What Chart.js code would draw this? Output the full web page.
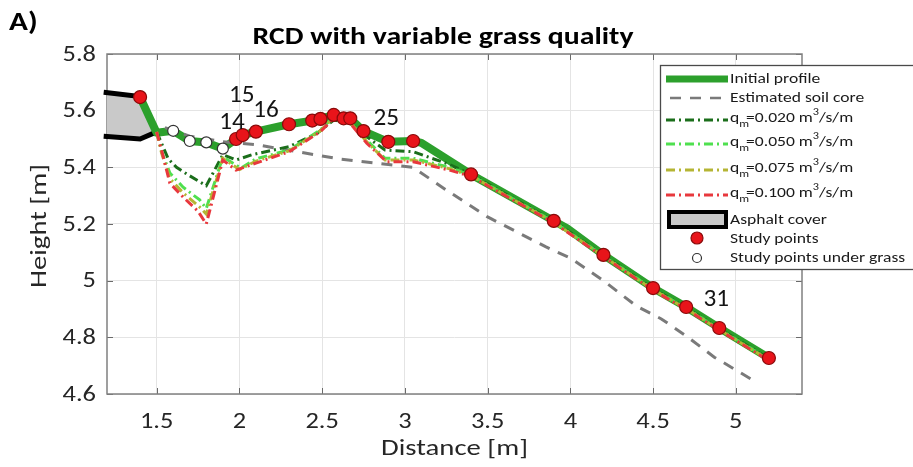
<!DOCTYPE html>
<html>
<head>
<meta charset="utf-8">
<script src="https://cdn.jsdelivr.net/npm/chart.js@4.4.1/dist/chart.umd.min.js"></script>
<style>
  html, body { margin: 0; padding: 0; background: #ffffff; }
  #wrap { width: 913px; height: 467px; position: relative; }
</style>
</head>
<body>
<div id="wrap"><canvas id="c" width="913" height="467"></canvas></div>
<script>
// ---- axis ticks ----
const xTicks = [1.5, 2, 2.5, 3, 3.5, 4, 4.5, 5];
const xTickLabels = ['1.5', '2', '2.5', '3', '3.5', '4', '4.5', '5'];
const yTicks = [4.6, 4.8, 5.0, 5.2, 5.4, 5.6, 5.8];
const yTickLabels = ['4.6', '4.8', '5', '5.2', '5.4', '5.6', '5.8'];

// ---- asphalt cover outline (open on the left side) ----
const asphaltX = [1.18, 1.4, 1.5, 1.4, 1.18];
const asphaltY = [5.665, 5.65, 5.525, 5.5, 5.51];

// ---- initial profile ----
const initX = [1.4, 1.5, 1.6, 1.7, 1.8, 1.9, 1.98, 2.02, 2.1, 2.3, 2.44, 2.49, 2.57, 2.63, 2.67, 2.75, 2.9, 3.05, 3.1, 3.4, 3.9, 3.98, 4.2, 4.5, 4.7, 4.9, 5.2];
const initY = [5.648, 5.522, 5.529, 5.493, 5.488, 5.466, 5.5, 5.514, 5.526, 5.552, 5.565, 5.571, 5.585, 5.573, 5.573, 5.528, 5.49, 5.493, 5.486, 5.375, 5.211, 5.185, 5.091, 4.974, 4.907, 4.833, 4.727];

// ---- estimated soil core ----
const soilX = [1.55, 1.7, 1.9, 2.1, 2.3, 2.6, 2.9, 3.05, 3.25, 3.5, 3.85, 4.0, 4.2, 4.4, 4.55, 4.7, 4.87, 5.1, 5.12];
const soilY = [5.54, 5.51, 5.49, 5.48, 5.46, 5.43, 5.41, 5.40, 5.32, 5.225, 5.12, 5.08, 5.0, 4.91, 4.865, 4.805, 4.73, 4.65, 4.64];

// ---- eroded profiles for each overflow discharge q_m ----
const qValues = ['0.020', '0.050', '0.075', '0.100'];

const q020X = [1.5, 1.57, 1.62, 1.7, 1.8, 1.9, 1.98, 2.08, 2.3, 2.47, 2.57, 2.67, 2.77, 2.88, 3.05, 3.27, 3.4, 3.9, 4.2, 4.5, 4.7, 4.9, 5.2];
const q020Y = [5.525, 5.43, 5.40, 5.37, 5.335, 5.445, 5.426, 5.445, 5.473, 5.52, 5.567, 5.555, 5.508, 5.461, 5.455, 5.41, 5.375, 5.21, 5.09, 4.972, 4.905, 4.831, 4.725];

const q050X = [1.5, 1.53, 1.58, 1.66, 1.76, 1.8, 1.9, 2.01, 2.1, 2.3, 2.49, 2.57, 2.67, 2.77, 2.88, 3.05, 3.27, 3.4, 3.9, 4.2, 4.5, 4.7, 4.9, 5.2];
const q050Y = [5.525, 5.455, 5.38, 5.33, 5.285, 5.255, 5.437, 5.397, 5.43, 5.461, 5.532, 5.579, 5.561, 5.496, 5.432, 5.432, 5.40, 5.372, 5.208, 5.088, 4.970, 4.903, 4.829, 4.722];

const q075X = [1.5, 1.53, 1.58, 1.66, 1.76, 1.8, 1.9, 2.0, 2.1, 2.3, 2.49, 2.57, 2.67, 2.77, 2.88, 3.05, 3.27, 3.4, 3.9, 4.2, 4.5, 4.7, 4.9, 5.2];
const q075Y = [5.525, 5.45, 5.36, 5.31, 5.26, 5.235, 5.432, 5.392, 5.422, 5.458, 5.529, 5.576, 5.558, 5.49, 5.426, 5.426, 5.395, 5.37, 5.206, 5.086, 4.968, 4.901, 4.827, 4.72];

const q100X = [1.5, 1.53, 1.58, 1.66, 1.75, 1.8, 1.9, 1.98, 2.1, 2.3, 2.49, 2.57, 2.67, 2.77, 2.89, 3.05, 3.27, 3.4, 3.9, 4.2, 4.5, 4.7, 4.9, 5.2];
const q100Y = [5.525, 5.46, 5.344, 5.295, 5.245, 5.2, 5.426, 5.39, 5.415, 5.455, 5.526, 5.573, 5.555, 5.485, 5.42, 5.42, 5.39, 5.368, 5.204, 5.084, 4.966, 4.899, 4.825, 4.718];

// ---- study points ----
const studyX = [1.4, 1.98, 2.02, 2.1, 2.3, 2.44, 2.49, 2.57, 2.63, 2.67, 2.75, 2.9, 3.05, 3.4, 3.9, 4.2, 4.5, 4.7, 4.9, 5.2];
const studyY = [5.648, 5.5, 5.514, 5.526, 5.552, 5.565, 5.571, 5.585, 5.573, 5.573, 5.528, 5.49, 5.493, 5.375, 5.211, 5.091, 4.974, 4.907, 4.833, 4.727];
const grassX = [1.6, 1.7, 1.8, 1.9];
const grassY = [5.529, 5.493, 5.488, 5.466];

// numbered study points that carry a label
const pointNumbers = ['14', '15', '16', '25', '31'];
const pointNumberIndex = [1, 2, 3, 11, 18];

const FONT = 'Carlito, Lato, sans-serif';
const WIDE = 1.2;   // horizontal text stretch
const COL = {
  init: '#2ca02c', soil: '#7a7a7a',
  q: ['#1b6e1b', '#4fe04f', '#b5b534', '#e8383d'],
  red: '#e8141a', redEdge: '#8a0a0a', text: '#262626'
};
const qDash = [9, 4, 2, 4];

function pts(xs, ys) { return xs.map((x, i) => ({ x: x, y: ys[i] })); }

const qSeries = [[q020X, q020Y], [q050X, q050Y], [q075X, q075Y], [q100X, q100Y]];

const datasets = [
  { label: 'Study points', data: pts(studyX, studyY), showLine: false,
    pointRadius: 6.5, pointBackgroundColor: COL.red, pointBorderColor: COL.redEdge,
    pointBorderWidth: 1.2, order: 0 },
  { label: 'Study points under grass', data: pts(grassX, grassY), showLine: false,
    pointRadius: 5.5, pointBackgroundColor: '#ffffff', pointBorderColor: '#333333',
    pointBorderWidth: 1.2, order: 0 },
];
qSeries.forEach((s, i) => {
  datasets.push({
    label: 'q_m=' + qValues[i], data: pts(s[0], s[1]), showLine: true,
    borderColor: COL.q[i], borderWidth: 3, borderDash: qDash, pointRadius: 0,
    tension: 0, order: 4 - i
  });
});
datasets.push(
  { label: 'Estimated soil core', data: pts(soilX, soilY), showLine: true,
    borderColor: COL.soil, borderWidth: 3, borderDash: [11, 9], pointRadius: 0, order: 6 },
  { label: 'Initial profile', data: pts(initX, initY), showLine: true,
    borderColor: COL.init, borderWidth: 8, pointRadius: 0, borderJoinStyle: 'round',
    borderCapStyle: 'round', order: 7 },
  { label: 'Asphalt cover', data: pts(asphaltX, asphaltY), showLine: true,
    borderColor: '#000000', borderWidth: 5, backgroundColor: '#c9c9c9', fill: 'shape',
    pointRadius: 0, clip: false, order: 8 }
);

// text drawn with a slight horizontal stretch
function wideText(ctx, text, x, y, font, align, sx) {
  ctx.save();
  ctx.font = font;
  ctx.translate(x, y);
  ctx.scale(sx || WIDE, 1);
  ctx.textAlign = align || 'left';
  ctx.fillText(text, 0, 0);
  ctx.restore();
}

function drawLegendLine(ctx, x1, x2, y, color, width, dash) {
  ctx.save();
  ctx.strokeStyle = color; ctx.lineWidth = width; ctx.setLineDash(dash || []);
  ctx.beginPath(); ctx.moveTo(x1, y); ctx.lineTo(x2, y); ctx.stroke();
  ctx.restore();
}

function drawQLabel(ctx, x, y, val, sx) {
  const big = '15px ' + FONT, small = '10.5px ' + FONT;
  ctx.save();
  ctx.translate(x, y); ctx.scale(sx, 1); ctx.textAlign = 'left';
  ctx.font = big; ctx.fillText('q', 0, 0);
  let cx = ctx.measureText('q').width;
  ctx.font = small; ctx.fillText('m', cx, 6);
  cx += ctx.measureText('m').width * 0.7;
  ctx.font = big; const t1 = '=' + val + ' m'; ctx.fillText(t1, cx, 0);
  cx += ctx.measureText(t1).width;
  ctx.font = small; ctx.fillText('3', cx, -6);
  cx += ctx.measureText('3').width;
  ctx.font = big; ctx.fillText('/s/m', cx, 0);
  ctx.restore();
}

const decor = {
  id: 'decor',
  beforeDatasetsDraw(chart) {
    const { ctx, chartArea: a, scales } = chart;
    ctx.save();
    // inward tick marks
    ctx.strokeStyle = '#6a6a6a'; ctx.lineWidth = 1;
    ctx.beginPath();
    xTicks.forEach(v => {
      const px = Math.round(scales.x.getPixelForValue(v)) + 0.5;
      ctx.moveTo(px, a.bottom); ctx.lineTo(px, a.bottom - 6);
      ctx.moveTo(px, a.top); ctx.lineTo(px, a.top + 6);
    });
    yTicks.forEach(v => {
      const py = Math.round(scales.y.getPixelForValue(v)) + 0.5;
      ctx.moveTo(a.left, py); ctx.lineTo(a.left + 6, py);
      ctx.moveTo(a.right, py); ctx.lineTo(a.right - 6, py);
    });
    ctx.stroke();
    // axes box
    ctx.strokeStyle = '#808080'; ctx.lineWidth = 1.5;
    ctx.strokeRect(a.left, a.top, a.right - a.left, a.bottom - a.top);
    // tick labels placed by the scales
    ctx.fillStyle = COL.text; ctx.textBaseline = 'middle';
    const tf = '22px ' + FONT;
    xTicks.forEach((v, i) => wideText(ctx, xTickLabels[i], scales.x.getPixelForValue(v), a.bottom + 28, tf, 'center'));
    yTicks.forEach((v, i) => wideText(ctx, yTickLabels[i], a.left - 11, scales.y.getPixelForValue(v) + 1, tf, 'right'));
    ctx.restore();
  },
  afterDatasetsDraw(chart) {
    const { ctx, scales } = chart;
    const offsets = [[-4, -16], [-1, -39], [10, -21], [-2, -23], [-3, -28]];
    ctx.save();
    ctx.fillStyle = '#141414';
    ctx.textBaseline = 'middle';
    pointNumbers.forEach((t, i) => {
      const k = pointNumberIndex[i];
      const px = scales.x.getPixelForValue(studyX[k]) + offsets[i][0];
      const py = scales.y.getPixelForValue(studyY[k]) + offsets[i][1];
      wideText(ctx, t, px, py, '24px ' + FONT, 'center', 1.05);
    });
    ctx.restore();
  },
  afterDraw(chart) {
    const { ctx, chartArea: a } = chart;
    ctx.save();
    ctx.fillStyle = '#000000';
    ctx.textBaseline = 'middle';
    // panel letter and title
    wideText(ctx, 'A)', 9, 23, 'bold 26px ' + FONT, 'left', 1.2);
    wideText(ctx, 'RCD with variable grass quality', 443, 38, 'bold 24px ' + FONT, 'center', 1.24);
    // axis titles
    ctx.fillStyle = COL.text;
    wideText(ctx, 'Distance [m]', (a.left + a.right) / 2, 449, '23px ' + FONT, 'center', 1.25);
    ctx.save();
    ctx.translate(40, (a.top + a.bottom) / 2 + 2);
    ctx.rotate(-Math.PI / 2);
    ctx.font = '23px ' + FONT;
    ctx.scale(1.25, 1);
    ctx.textAlign = 'center';
    ctx.fillText('Height [m]', 0, 0);
    ctx.restore();

    // legend
    const lx = 660.5, ly = 65.5;
    ctx.fillStyle = '#ffffff';
    ctx.fillRect(lx, ly, 260, 204);
    ctx.strokeStyle = '#4a4a4a'; ctx.lineWidth = 1.3;
    ctx.strokeRect(lx, ly, 260, 204);
    const sx1 = 666, sx2 = 728, tx = 730;
    drawLegendLine(ctx, sx1, sx2, 79, COL.init, 7);
    drawLegendLine(ctx, sx1 + 4, sx2, 98, COL.soil, 2.5, [11, 9]);
    const qy = [120, 144, 170, 195];
    qy.forEach((y, i) => drawLegendLine(ctx, sx1, sx2, y, COL.q[i], 3, qDash));
    // asphalt patch
    ctx.fillStyle = '#c9c9c9'; ctx.fillRect(669, 212, 57, 15);
    ctx.strokeStyle = '#000000'; ctx.lineWidth = 4; ctx.strokeRect(669, 212, 57, 15);
    // markers
    ctx.beginPath(); ctx.arc(697, 238, 6, 0, Math.PI * 2);
    ctx.fillStyle = COL.red; ctx.fill(); ctx.lineWidth = 1.2; ctx.strokeStyle = COL.redEdge; ctx.stroke();
    ctx.beginPath(); ctx.arc(697, 258, 4.5, 0, Math.PI * 2);
    ctx.fillStyle = '#ffffff'; ctx.fill(); ctx.strokeStyle = '#333333'; ctx.stroke();
    // legend texts
    ctx.fillStyle = '#1a1a1a'; ctx.textBaseline = 'middle';
    const lf = '15px ' + FONT, ls = 1.17;
    wideText(ctx, 'Initial profile', tx, 79, lf, 'left', ls);
    wideText(ctx, 'Estimated soil core', tx, 98, lf, 'left', ls);
    const qty = [118, 142, 168, 193];
    qValues.forEach((v, i) => drawQLabel(ctx, tx, qty[i], v, ls));
    wideText(ctx, 'Asphalt cover', tx, 220, lf, 'left', ls);
    wideText(ctx, 'Study points', tx, 239, lf, 'left', ls);
    wideText(ctx, 'Study points under grass', tx, 258, lf, 'left', ls);
    ctx.restore();
  }
};

new Chart(document.getElementById('c'), {
  type: 'scatter',
  data: { datasets: datasets },
  plugins: [decor],
  options: {
    responsive: false,
    animation: false,
    layout: { padding: { top: 54, right: 111, left: 107, bottom: 73 } },
    plugins: { legend: { display: false }, tooltip: { enabled: false }, title: { display: false } },
    scales: {
      x: {
        type: 'linear', min: 1.2, max: 5.4,
        afterBuildTicks: s => { s.ticks = xTicks.map(v => ({ value: v })); },
        grid: { color: '#e4e4e4', lineWidth: 1, drawTicks: false },
        border: { display: false },
        ticks: { display: false }
      },
      y: {
        type: 'linear', min: 4.6, max: 5.8,
        afterBuildTicks: s => { s.ticks = yTicks.map(v => ({ value: v })); },
        grid: { color: '#e4e4e4', lineWidth: 1, drawTicks: false },
        border: { display: false },
        ticks: { display: false }
      }
    }
  }
});
</script>
</body>
</html>
